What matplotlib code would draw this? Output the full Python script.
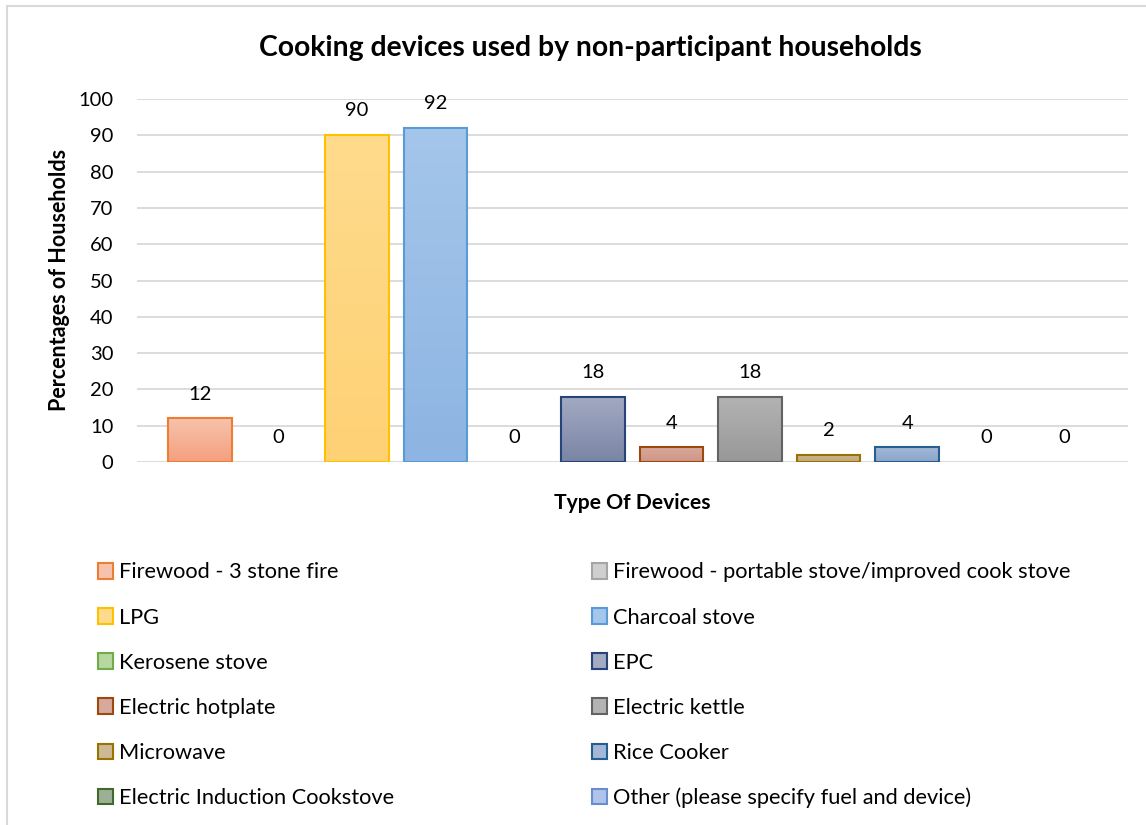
import matplotlib.pyplot as plt
import numpy as np
from matplotlib.colors import to_rgb
from matplotlib.patches import Rectangle

plt.rcParams['font.family'] = ['Lato', 'DejaVu Sans']

devices = [
    "Firewood - 3 stone fire",
    "Firewood - portable stove/improved cook stove",
    "LPG",
    "Charcoal stove",
    "Kerosene stove",
    "EPC",
    "Electric hotplate",
    "Electric kettle",
    "Microwave",
    "Rice Cooker",
    "Electric Induction Cookstove",
    "Other (please specify fuel and device)",
]
percentages = [12, 0, 90, 92, 0, 18, 4, 18, 2, 4, 0, 0]

# fill (top, bottom) and outline colours per device
fill_top = ["#F7C2AC", "#CFCFCF", "#FEDB8C", "#A4C6EA", "#B5D7A0", "#A3AAC2",
            "#D7A89C", "#B3B3B3", "#CDB995", "#A2B8D6", "#9AB195", "#B0C3EA"]
fill_bottom = ["#F4A07F", "#BDBDBD", "#FFD175", "#8DB4E2", "#9CC987", "#7A85A5",
               "#CF9685", "#989898", "#C0A77E", "#8CA6C9", "#86A07F", "#9CB2E2"]
edges = ["#ED7D31", "#A5A5A5", "#FFC000", "#5B9BD5", "#70AD47", "#264478",
         "#9E480E", "#636363", "#997300", "#255E91", "#43682B", "#698ED0"]

W, H = 1146, 825
fig = plt.figure(figsize=(W / 100, H / 100), dpi=100)

# light chart border
fig.add_artist(Rectangle((7 / W, -0.1), 1.2, 1 - 6 / H + 0.1, transform=fig.transFigure,
                         fill=False, edgecolor="#D9D9D9", linewidth=1.5))

ax = fig.add_axes([137 / W, (H - 462) / H, 991 / W, 363 / H])
x = np.arange(len(devices))
bar_w = 0.81

for i, (v, ft, fb, ec) in enumerate(zip(percentages, fill_top, fill_bottom, edges)):
    if v > 0:
        bar = ax.bar(x[i], v, width=bar_w, color="none", edgecolor=ec, linewidth=1.5,
                     zorder=3)[0]
        grad = np.linspace(0, 1, 64)[:, None, None]
        img = (1 - grad) * np.array(to_rgb(ft)) + grad * np.array(to_rgb(fb))
        im = ax.imshow(img, extent=(x[i] - bar_w / 2, x[i] + bar_w / 2, 0, v),
                       aspect="auto", origin="upper", zorder=2)
        im.set_clip_path(bar)
    ax.annotate(str(v), (x[i], v), xytext=(0, 17.5), textcoords="offset points",
                ha="center", va="center", fontsize=14.5, color="#000000")

ax.set_xlim(-0.8, 11.81)
ax.set_ylim(0, 100)
ax.set_yticks(range(0, 101, 10))
ax.set_xticks([])
ax.grid(axis="y", color="#D9D9D9", linewidth=1.3, zorder=0)
ax.set_axisbelow(True)
for s in ax.spines.values():
    s.set_visible(False)
ax.tick_params(axis="y", length=0, labelsize=14.5, pad=17)

fig.text(590 / W, 1 - 48 / H, "Cooking devices used by non-participant households",
         ha="center", va="center", fontsize=20.3, fontweight="bold")
fig.text(60 / W, 1 - 280 / H, "Percentages of Households", rotation=90,
         ha="center", va="center", fontsize=15.5, fontweight="bold")
fig.text(632 / W, 1 - 503 / H, "Type Of Devices", ha="center", va="center",
         fontsize=15.2, fontweight="bold")

# legend: two columns, six rows
handles = [Rectangle((0, 0), 1, 1, facecolor=ft, edgecolor=ec, linewidth=1.5)
           for ft, ec in zip(fill_top, edges)]
order = list(range(0, 12, 2)) + list(range(1, 12, 2))
fig.legend([handles[k] for k in order], [devices[k] for k in order],
           ncol=2, loc="upper left", bbox_to_anchor=(98 / W, 1 - 562.5 / H),
           frameon=False, fontsize=15.7, handlelength=0.7, handleheight=0.7,
           handletextpad=0.25, labelspacing=1.15, columnspacing=9.08,
           borderpad=0, borderaxespad=0)

fig.savefig("out.png", dpi=100)
